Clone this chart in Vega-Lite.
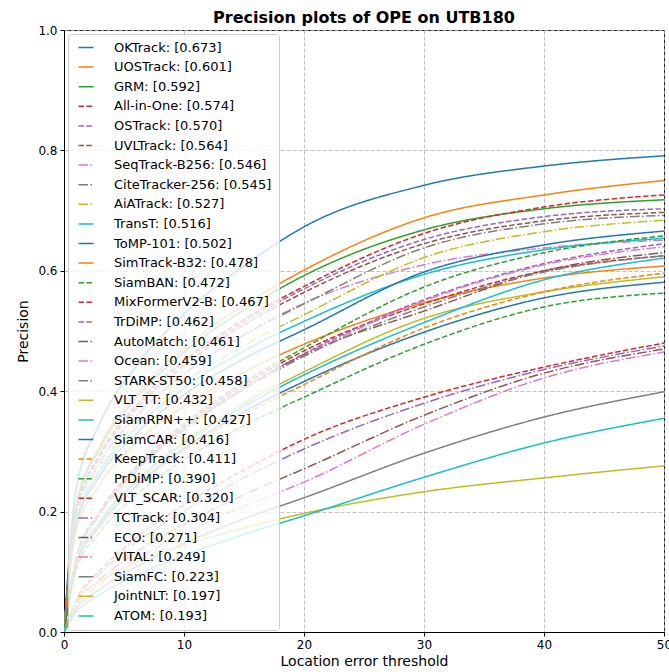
{
"$schema": "https://vega.github.io/schema/vega-lite/v6.json",
"width": 600, "height": 602,
"autosize": {"type": "none"},
"padding": {"left": 64, "top": 30, "right": 5, "bottom": 40},
"background": "white",
"title": {"text": "Precision plots of OPE on UTB180", "font": "DejaVu Sans", "fontSize": 16, "fontWeight": "bold", "color": "black", "offset": -2},
"config": {
  "view": {"stroke": "black", "strokeWidth": 1},
  "axis": {"labelFont": "DejaVu Sans", "labelFontSize": 12, "labelColor": "black", "titleFont": "DejaVu Sans", "titleFontSize": 14, "titleFontWeight": "normal", "titleColor": "black", "domainColor": "black", "tickColor": "black", "tickSize": 4, "gridColor": "#b0b0b0", "gridDash": [4, 2], "gridWidth": 0.8, "grid": true},
  "legend": {"orient": "top-left", "offset": 4, "padding": 7, "fillColor": "rgba(255,255,255,0.8)", "strokeColor": "#cccccc", "cornerRadius": 3, "labelFont": "DejaVu Sans", "labelFontSize": 13, "labelColor": "black", "labelLimit": 300, "symbolType": "M-0.6,0H2.4", "symbolSize": 100, "symbolStrokeWidth": 1.5, "labelOffset": 26, "rowPadding": 5.6, "symbolLimit": 50}
},
"data": {"values": [
{"s":"OKTrack: [0.673]","x":0,"y":0},{"s":"OKTrack: [0.673]","x":1,"y":0.236},{"s":"OKTrack: [0.673]","x":3,"y":0.347},{"s":"OKTrack: [0.673]","x":6,"y":0.441},{"s":"OKTrack: [0.673]","x":10,"y":0.528},{"s":"OKTrack: [0.673]","x":15,"y":0.608},{"s":"OKTrack: [0.673]","x":20,"y":0.673},{"s":"OKTrack: [0.673]","x":30,"y":0.742},{"s":"OKTrack: [0.673]","x":40,"y":0.774},{"s":"OKTrack: [0.673]","x":50,"y":0.791},
{"s":"UOSTrack: [0.601]","x":0,"y":0},{"s":"UOSTrack: [0.601]","x":1,"y":0.210},{"s":"UOSTrack: [0.601]","x":3,"y":0.310},{"s":"UOSTrack: [0.601]","x":6,"y":0.394},{"s":"UOSTrack: [0.601]","x":10,"y":0.472},{"s":"UOSTrack: [0.601]","x":15,"y":0.543},{"s":"UOSTrack: [0.601]","x":20,"y":0.601},{"s":"UOSTrack: [0.601]","x":30,"y":0.688},{"s":"UOSTrack: [0.601]","x":40,"y":0.726},{"s":"UOSTrack: [0.601]","x":50,"y":0.750},
{"s":"GRM: [0.592]","x":0,"y":0},{"s":"GRM: [0.592]","x":1,"y":0.207},{"s":"GRM: [0.592]","x":3,"y":0.305},{"s":"GRM: [0.592]","x":6,"y":0.388},{"s":"GRM: [0.592]","x":10,"y":0.465},{"s":"GRM: [0.592]","x":15,"y":0.535},{"s":"GRM: [0.592]","x":20,"y":0.592},{"s":"GRM: [0.592]","x":30,"y":0.668},{"s":"GRM: [0.592]","x":40,"y":0.703},{"s":"GRM: [0.592]","x":50,"y":0.718},
{"s":"All-in-One: [0.574]","x":0,"y":0},{"s":"All-in-One: [0.574]","x":1,"y":0.201},{"s":"All-in-One: [0.574]","x":3,"y":0.296},{"s":"All-in-One: [0.574]","x":6,"y":0.377},{"s":"All-in-One: [0.574]","x":10,"y":0.451},{"s":"All-in-One: [0.574]","x":15,"y":0.519},{"s":"All-in-One: [0.574]","x":20,"y":0.574},{"s":"All-in-One: [0.574]","x":30,"y":0.662},{"s":"All-in-One: [0.574]","x":40,"y":0.706},{"s":"All-in-One: [0.574]","x":50,"y":0.726},
{"s":"OSTrack: [0.570]","x":0,"y":0},{"s":"OSTrack: [0.570]","x":1,"y":0.200},{"s":"OSTrack: [0.570]","x":3,"y":0.294},{"s":"OSTrack: [0.570]","x":6,"y":0.374},{"s":"OSTrack: [0.570]","x":10,"y":0.448},{"s":"OSTrack: [0.570]","x":15,"y":0.515},{"s":"OSTrack: [0.570]","x":20,"y":0.570},{"s":"OSTrack: [0.570]","x":30,"y":0.652},{"s":"OSTrack: [0.570]","x":40,"y":0.690},{"s":"OSTrack: [0.570]","x":50,"y":0.703},
{"s":"UVLTrack: [0.564]","x":0,"y":0},{"s":"UVLTrack: [0.564]","x":1,"y":0.197},{"s":"UVLTrack: [0.564]","x":3,"y":0.291},{"s":"UVLTrack: [0.564]","x":6,"y":0.370},{"s":"UVLTrack: [0.564]","x":10,"y":0.443},{"s":"UVLTrack: [0.564]","x":15,"y":0.510},{"s":"UVLTrack: [0.564]","x":20,"y":0.564},{"s":"UVLTrack: [0.564]","x":30,"y":0.645},{"s":"UVLTrack: [0.564]","x":40,"y":0.683},{"s":"UVLTrack: [0.564]","x":50,"y":0.697},
{"s":"SeqTrack-B256: [0.546]","x":0,"y":0},{"s":"SeqTrack-B256: [0.546]","x":1,"y":0.191},{"s":"SeqTrack-B256: [0.546]","x":3,"y":0.281},{"s":"SeqTrack-B256: [0.546]","x":6,"y":0.358},{"s":"SeqTrack-B256: [0.546]","x":10,"y":0.429},{"s":"SeqTrack-B256: [0.546]","x":15,"y":0.494},{"s":"SeqTrack-B256: [0.546]","x":20,"y":0.546},{"s":"SeqTrack-B256: [0.546]","x":30,"y":0.610},{"s":"SeqTrack-B256: [0.546]","x":40,"y":0.638},{"s":"SeqTrack-B256: [0.546]","x":50,"y":0.651},
{"s":"CiteTracker-256: [0.545]","x":0,"y":0},{"s":"CiteTracker-256: [0.545]","x":1,"y":0.191},{"s":"CiteTracker-256: [0.545]","x":3,"y":0.281},{"s":"CiteTracker-256: [0.545]","x":6,"y":0.358},{"s":"CiteTracker-256: [0.545]","x":10,"y":0.428},{"s":"CiteTracker-256: [0.545]","x":15,"y":0.493},{"s":"CiteTracker-256: [0.545]","x":20,"y":0.545},{"s":"CiteTracker-256: [0.545]","x":30,"y":0.638},{"s":"CiteTracker-256: [0.545]","x":40,"y":0.678},{"s":"CiteTracker-256: [0.545]","x":50,"y":0.692},
{"s":"AiATrack: [0.527]","x":0,"y":0},{"s":"AiATrack: [0.527]","x":1,"y":0.185},{"s":"AiATrack: [0.527]","x":3,"y":0.271},{"s":"AiATrack: [0.527]","x":6,"y":0.346},{"s":"AiATrack: [0.527]","x":10,"y":0.414},{"s":"AiATrack: [0.527]","x":15,"y":0.476},{"s":"AiATrack: [0.527]","x":20,"y":0.527},{"s":"AiATrack: [0.527]","x":30,"y":0.622},{"s":"AiATrack: [0.527]","x":40,"y":0.665},{"s":"AiATrack: [0.527]","x":50,"y":0.684},
{"s":"TransT: [0.516]","x":0,"y":0},{"s":"TransT: [0.516]","x":1,"y":0.181},{"s":"TransT: [0.516]","x":3,"y":0.266},{"s":"TransT: [0.516]","x":6,"y":0.339},{"s":"TransT: [0.516]","x":10,"y":0.405},{"s":"TransT: [0.516]","x":15,"y":0.467},{"s":"TransT: [0.516]","x":20,"y":0.516},{"s":"TransT: [0.516]","x":30,"y":0.594},{"s":"TransT: [0.516]","x":40,"y":0.635},{"s":"TransT: [0.516]","x":50,"y":0.654},
{"s":"ToMP-101: [0.502]","x":0,"y":0},{"s":"ToMP-101: [0.502]","x":1,"y":0.176},{"s":"ToMP-101: [0.502]","x":3,"y":0.259},{"s":"ToMP-101: [0.502]","x":6,"y":0.329},{"s":"ToMP-101: [0.502]","x":10,"y":0.394},{"s":"ToMP-101: [0.502]","x":15,"y":0.454},{"s":"ToMP-101: [0.502]","x":20,"y":0.502},{"s":"ToMP-101: [0.502]","x":30,"y":0.598},{"s":"ToMP-101: [0.502]","x":40,"y":0.643},{"s":"ToMP-101: [0.502]","x":50,"y":0.666},
{"s":"SimTrack-B32: [0.478]","x":0,"y":0},{"s":"SimTrack-B32: [0.478]","x":1,"y":0.167},{"s":"SimTrack-B32: [0.478]","x":3,"y":0.246},{"s":"SimTrack-B32: [0.478]","x":6,"y":0.314},{"s":"SimTrack-B32: [0.478]","x":10,"y":0.375},{"s":"SimTrack-B32: [0.478]","x":15,"y":0.432},{"s":"SimTrack-B32: [0.478]","x":20,"y":0.478},{"s":"SimTrack-B32: [0.478]","x":30,"y":0.547},{"s":"SimTrack-B32: [0.478]","x":40,"y":0.588},{"s":"SimTrack-B32: [0.478]","x":50,"y":0.608},
{"s":"SiamBAN: [0.472]","x":0,"y":0},{"s":"SiamBAN: [0.472]","x":1,"y":0.123},{"s":"SiamBAN: [0.472]","x":3,"y":0.201},{"s":"SiamBAN: [0.472]","x":6,"y":0.275},{"s":"SiamBAN: [0.472]","x":10,"y":0.346},{"s":"SiamBAN: [0.472]","x":15,"y":0.415},{"s":"SiamBAN: [0.472]","x":20,"y":0.472},{"s":"SiamBAN: [0.472]","x":30,"y":0.573},{"s":"SiamBAN: [0.472]","x":40,"y":0.630},{"s":"SiamBAN: [0.472]","x":50,"y":0.658},
{"s":"MixFormerV2-B: [0.467]","x":0,"y":0},{"s":"MixFormerV2-B: [0.467]","x":1,"y":0.121},{"s":"MixFormerV2-B: [0.467]","x":3,"y":0.199},{"s":"MixFormerV2-B: [0.467]","x":6,"y":0.272},{"s":"MixFormerV2-B: [0.467]","x":10,"y":0.342},{"s":"MixFormerV2-B: [0.467]","x":15,"y":0.411},{"s":"MixFormerV2-B: [0.467]","x":20,"y":0.467},{"s":"MixFormerV2-B: [0.467]","x":30,"y":0.545},{"s":"MixFormerV2-B: [0.467]","x":40,"y":0.600},{"s":"MixFormerV2-B: [0.467]","x":50,"y":0.625},
{"s":"TrDiMP: [0.462]","x":0,"y":0},{"s":"TrDiMP: [0.462]","x":1,"y":0.120},{"s":"TrDiMP: [0.462]","x":3,"y":0.197},{"s":"TrDiMP: [0.462]","x":6,"y":0.269},{"s":"TrDiMP: [0.462]","x":10,"y":0.338},{"s":"TrDiMP: [0.462]","x":15,"y":0.406},{"s":"TrDiMP: [0.462]","x":20,"y":0.462},{"s":"TrDiMP: [0.462]","x":30,"y":0.552},{"s":"TrDiMP: [0.462]","x":40,"y":0.612},{"s":"TrDiMP: [0.462]","x":50,"y":0.645},
{"s":"AutoMatch: [0.461]","x":0,"y":0},{"s":"AutoMatch: [0.461]","x":1,"y":0.120},{"s":"AutoMatch: [0.461]","x":3,"y":0.196},{"s":"AutoMatch: [0.461]","x":6,"y":0.268},{"s":"AutoMatch: [0.461]","x":10,"y":0.338},{"s":"AutoMatch: [0.461]","x":15,"y":0.405},{"s":"AutoMatch: [0.461]","x":20,"y":0.461},{"s":"AutoMatch: [0.461]","x":30,"y":0.533},{"s":"AutoMatch: [0.461]","x":40,"y":0.600},{"s":"AutoMatch: [0.461]","x":50,"y":0.630},
{"s":"Ocean: [0.459]","x":0,"y":0},{"s":"Ocean: [0.459]","x":1,"y":0.119},{"s":"Ocean: [0.459]","x":3,"y":0.196},{"s":"Ocean: [0.459]","x":6,"y":0.267},{"s":"Ocean: [0.459]","x":10,"y":0.336},{"s":"Ocean: [0.459]","x":15,"y":0.404},{"s":"Ocean: [0.459]","x":20,"y":0.459},{"s":"Ocean: [0.459]","x":30,"y":0.550},{"s":"Ocean: [0.459]","x":40,"y":0.610},{"s":"Ocean: [0.459]","x":50,"y":0.640},
{"s":"STARK-ST50: [0.458]","x":0,"y":0},{"s":"STARK-ST50: [0.458]","x":1,"y":0.119},{"s":"STARK-ST50: [0.458]","x":3,"y":0.195},{"s":"STARK-ST50: [0.458]","x":6,"y":0.267},{"s":"STARK-ST50: [0.458]","x":10,"y":0.335},{"s":"STARK-ST50: [0.458]","x":15,"y":0.403},{"s":"STARK-ST50: [0.458]","x":20,"y":0.458},{"s":"STARK-ST50: [0.458]","x":30,"y":0.540},{"s":"STARK-ST50: [0.458]","x":40,"y":0.598},{"s":"STARK-ST50: [0.458]","x":50,"y":0.625},
{"s":"VLT_TT: [0.432]","x":0,"y":0},{"s":"VLT_TT: [0.432]","x":1,"y":0.112},{"s":"VLT_TT: [0.432]","x":3,"y":0.184},{"s":"VLT_TT: [0.432]","x":6,"y":0.251},{"s":"VLT_TT: [0.432]","x":10,"y":0.316},{"s":"VLT_TT: [0.432]","x":15,"y":0.380},{"s":"VLT_TT: [0.432]","x":20,"y":0.432},{"s":"VLT_TT: [0.432]","x":30,"y":0.521},{"s":"VLT_TT: [0.432]","x":40,"y":0.565},{"s":"VLT_TT: [0.432]","x":50,"y":0.590},
{"s":"SiamRPN++: [0.427]","x":0,"y":0},{"s":"SiamRPN++: [0.427]","x":1,"y":0.111},{"s":"SiamRPN++: [0.427]","x":3,"y":0.182},{"s":"SiamRPN++: [0.427]","x":6,"y":0.249},{"s":"SiamRPN++: [0.427]","x":10,"y":0.313},{"s":"SiamRPN++: [0.427]","x":15,"y":0.375},{"s":"SiamRPN++: [0.427]","x":20,"y":0.427},{"s":"SiamRPN++: [0.427]","x":30,"y":0.514},{"s":"SiamRPN++: [0.427]","x":40,"y":0.585},{"s":"SiamRPN++: [0.427]","x":50,"y":0.621},
{"s":"SiamCAR: [0.416]","x":0,"y":0},{"s":"SiamCAR: [0.416]","x":1,"y":0.108},{"s":"SiamCAR: [0.416]","x":3,"y":0.177},{"s":"SiamCAR: [0.416]","x":6,"y":0.242},{"s":"SiamCAR: [0.416]","x":10,"y":0.305},{"s":"SiamCAR: [0.416]","x":15,"y":0.366},{"s":"SiamCAR: [0.416]","x":20,"y":0.416},{"s":"SiamCAR: [0.416]","x":30,"y":0.498},{"s":"SiamCAR: [0.416]","x":40,"y":0.555},{"s":"SiamCAR: [0.416]","x":50,"y":0.581},
{"s":"KeepTrack: [0.411]","x":0,"y":0},{"s":"KeepTrack: [0.411]","x":1,"y":0.107},{"s":"KeepTrack: [0.411]","x":3,"y":0.175},{"s":"KeepTrack: [0.411]","x":6,"y":0.239},{"s":"KeepTrack: [0.411]","x":10,"y":0.301},{"s":"KeepTrack: [0.411]","x":15,"y":0.361},{"s":"KeepTrack: [0.411]","x":20,"y":0.411},{"s":"KeepTrack: [0.411]","x":30,"y":0.505},{"s":"KeepTrack: [0.411]","x":40,"y":0.565},{"s":"KeepTrack: [0.411]","x":50,"y":0.596},
{"s":"PrDiMP: [0.390]","x":0,"y":0},{"s":"PrDiMP: [0.390]","x":1,"y":0.101},{"s":"PrDiMP: [0.390]","x":3,"y":0.166},{"s":"PrDiMP: [0.390]","x":6,"y":0.227},{"s":"PrDiMP: [0.390]","x":10,"y":0.286},{"s":"PrDiMP: [0.390]","x":15,"y":0.343},{"s":"PrDiMP: [0.390]","x":20,"y":0.390},{"s":"PrDiMP: [0.390]","x":30,"y":0.478},{"s":"PrDiMP: [0.390]","x":40,"y":0.540},{"s":"PrDiMP: [0.390]","x":50,"y":0.563},
{"s":"VLT_SCAR: [0.320]","x":0,"y":0},{"s":"VLT_SCAR: [0.320]","x":1,"y":0.053},{"s":"VLT_SCAR: [0.320]","x":3,"y":0.102},{"s":"VLT_SCAR: [0.320]","x":6,"y":0.156},{"s":"VLT_SCAR: [0.320]","x":10,"y":0.211},{"s":"VLT_SCAR: [0.320]","x":15,"y":0.269},{"s":"VLT_SCAR: [0.320]","x":20,"y":0.320},{"s":"VLT_SCAR: [0.320]","x":30,"y":0.390},{"s":"VLT_SCAR: [0.320]","x":40,"y":0.440},{"s":"VLT_SCAR: [0.320]","x":50,"y":0.480},
{"s":"TCTrack: [0.304]","x":0,"y":0},{"s":"TCTrack: [0.304]","x":1,"y":0.051},{"s":"TCTrack: [0.304]","x":3,"y":0.097},{"s":"TCTrack: [0.304]","x":6,"y":0.148},{"s":"TCTrack: [0.304]","x":10,"y":0.201},{"s":"TCTrack: [0.304]","x":15,"y":0.256},{"s":"TCTrack: [0.304]","x":20,"y":0.304},{"s":"TCTrack: [0.304]","x":30,"y":0.380},{"s":"TCTrack: [0.304]","x":40,"y":0.436},{"s":"TCTrack: [0.304]","x":50,"y":0.475},
{"s":"ECO: [0.271]","x":0,"y":0},{"s":"ECO: [0.271]","x":1,"y":0.045},{"s":"ECO: [0.271]","x":3,"y":0.087},{"s":"ECO: [0.271]","x":6,"y":0.132},{"s":"ECO: [0.271]","x":10,"y":0.179},{"s":"ECO: [0.271]","x":15,"y":0.228},{"s":"ECO: [0.271]","x":20,"y":0.271},{"s":"ECO: [0.271]","x":30,"y":0.360},{"s":"ECO: [0.271]","x":40,"y":0.430},{"s":"ECO: [0.271]","x":50,"y":0.470},
{"s":"VITAL: [0.249]","x":0,"y":0},{"s":"VITAL: [0.249]","x":1,"y":0.041},{"s":"VITAL: [0.249]","x":3,"y":0.080},{"s":"VITAL: [0.249]","x":6,"y":0.121},{"s":"VITAL: [0.249]","x":10,"y":0.164},{"s":"VITAL: [0.249]","x":15,"y":0.209},{"s":"VITAL: [0.249]","x":20,"y":0.249},{"s":"VITAL: [0.249]","x":30,"y":0.345},{"s":"VITAL: [0.249]","x":40,"y":0.422},{"s":"VITAL: [0.249]","x":50,"y":0.465},
{"s":"SiamFC: [0.223]","x":0,"y":0},{"s":"SiamFC: [0.223]","x":1,"y":0.037},{"s":"SiamFC: [0.223]","x":3,"y":0.071},{"s":"SiamFC: [0.223]","x":6,"y":0.108},{"s":"SiamFC: [0.223]","x":10,"y":0.147},{"s":"SiamFC: [0.223]","x":15,"y":0.188},{"s":"SiamFC: [0.223]","x":20,"y":0.223},{"s":"SiamFC: [0.223]","x":30,"y":0.297},{"s":"SiamFC: [0.223]","x":40,"y":0.357},{"s":"SiamFC: [0.223]","x":50,"y":0.399},
{"s":"JointNLT: [0.197]","x":0,"y":0},{"s":"JointNLT: [0.197]","x":1,"y":0.051},{"s":"JointNLT: [0.197]","x":3,"y":0.084},{"s":"JointNLT: [0.197]","x":6,"y":0.115},{"s":"JointNLT: [0.197]","x":10,"y":0.144},{"s":"JointNLT: [0.197]","x":15,"y":0.173},{"s":"JointNLT: [0.197]","x":20,"y":0.197},{"s":"JointNLT: [0.197]","x":30,"y":0.233},{"s":"JointNLT: [0.197]","x":40,"y":0.256},{"s":"JointNLT: [0.197]","x":50,"y":0.276},
{"s":"ATOM: [0.193]","x":0,"y":0},{"s":"ATOM: [0.193]","x":1,"y":0.032},{"s":"ATOM: [0.193]","x":3,"y":0.062},{"s":"ATOM: [0.193]","x":6,"y":0.094},{"s":"ATOM: [0.193]","x":10,"y":0.127},{"s":"ATOM: [0.193]","x":15,"y":0.162},{"s":"ATOM: [0.193]","x":20,"y":0.193},{"s":"ATOM: [0.193]","x":30,"y":0.257},{"s":"ATOM: [0.193]","x":40,"y":0.314},{"s":"ATOM: [0.193]","x":50,"y":0.355}
]},
"mark": {"type": "line", "strokeWidth": 1.5, "interpolate": "monotone", "clip": true},
"encoding": {
  "x": {"field": "x", "type": "quantitative", "scale": {"domain": [0, 50], "nice": false}, "axis": {"values": [0, 10, 20, 30, 40, 50], "title": "Location error threshold", "labelPadding": 3, "titlePadding": 4, "labelFlush": false}},
  "y": {"field": "y", "type": "quantitative", "scale": {"domain": [0, 1], "nice": false}, "axis": {"values": [0, 0.2, 0.4, 0.6, 0.8, 1.0], "format": ".1f", "title": "Precision", "labelPadding": 3, "titlePadding": 7, "labelFlush": false}},
  "color": {"field": "s", "type": "nominal", "legend": {"title": null},
    "scale": {"domain": ["OKTrack: [0.673]","UOSTrack: [0.601]","GRM: [0.592]","All-in-One: [0.574]","OSTrack: [0.570]","UVLTrack: [0.564]","SeqTrack-B256: [0.546]","CiteTracker-256: [0.545]","AiATrack: [0.527]","TransT: [0.516]","ToMP-101: [0.502]","SimTrack-B32: [0.478]","SiamBAN: [0.472]","MixFormerV2-B: [0.467]","TrDiMP: [0.462]","AutoMatch: [0.461]","Ocean: [0.459]","STARK-ST50: [0.458]","VLT_TT: [0.432]","SiamRPN++: [0.427]","SiamCAR: [0.416]","KeepTrack: [0.411]","PrDiMP: [0.390]","VLT_SCAR: [0.320]","TCTrack: [0.304]","ECO: [0.271]","VITAL: [0.249]","SiamFC: [0.223]","JointNLT: [0.197]","ATOM: [0.193]"],
      "range": ["#1f77b4","#ff7f0e","#2ca02c","#d62728","#9467bd","#8c564b","#e377c2","#7f7f7f","#bcbd22","#17becf","#1f77b4","#ff7f0e","#2ca02c","#d62728","#9467bd","#8c564b","#e377c2","#7f7f7f","#bcbd22","#17becf","#1f77b4","#ff7f0e","#2ca02c","#d62728","#9467bd","#8c564b","#e377c2","#7f7f7f","#bcbd22","#17becf"]}},
  "strokeDash": {"field": "s", "type": "nominal", "legend": {"title": null},
    "scale": {"domain": ["OKTrack: [0.673]","UOSTrack: [0.601]","GRM: [0.592]","All-in-One: [0.574]","OSTrack: [0.570]","UVLTrack: [0.564]","SeqTrack-B256: [0.546]","CiteTracker-256: [0.545]","AiATrack: [0.527]","TransT: [0.516]","ToMP-101: [0.502]","SimTrack-B32: [0.478]","SiamBAN: [0.472]","MixFormerV2-B: [0.467]","TrDiMP: [0.462]","AutoMatch: [0.461]","Ocean: [0.459]","STARK-ST50: [0.458]","VLT_TT: [0.432]","SiamRPN++: [0.427]","SiamCAR: [0.416]","KeepTrack: [0.411]","PrDiMP: [0.390]","VLT_SCAR: [0.320]","TCTrack: [0.304]","ECO: [0.271]","VITAL: [0.249]","SiamFC: [0.223]","JointNLT: [0.197]","ATOM: [0.193]"],
      "range": [[1,0],[1,0],[1,0],[5.5,2.4],[5.5,2.4],[5.5,2.4],[9.6,2.4,1.5,2.4],[9.6,2.4,1.5,2.4],[9.6,2.4,1.5,2.4],[1,0],[1,0],[1,0],[5.5,2.4],[5.5,2.4],[5.5,2.4],[9.6,2.4,1.5,2.4],[9.6,2.4,1.5,2.4],[9.6,2.4,1.5,2.4],[1,0],[1,0],[1,0],[5.5,2.4],[5.5,2.4],[5.5,2.4],[9.6,2.4,1.5,2.4],[9.6,2.4,1.5,2.4],[9.6,2.4,1.5,2.4],[1,0],[1,0],[1,0]]}}
}
}
